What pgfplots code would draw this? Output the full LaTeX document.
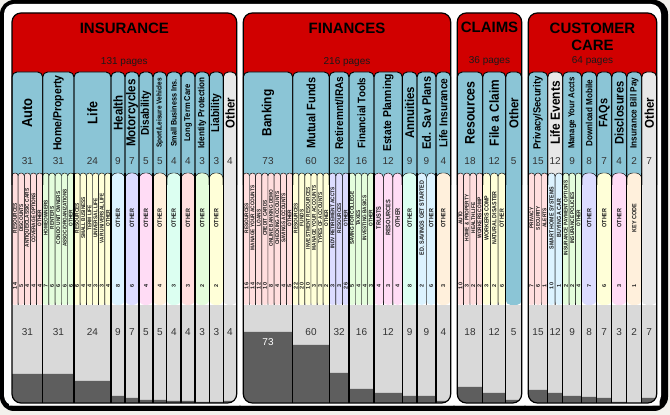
\documentclass[border=0pt]{standalone}
\usepackage{graphicx}
\usepackage{pgfplots}
\pgfplotsset{compat=1.18}
\usepackage{fontspec}
\setmainfont{Liberation Sans}
\definecolor{hdr}{HTML}{D10000}
\definecolor{tabc}{HTML}{8BC5D6}
\definecolor{tabg}{HTML}{E8E8E8}
\definecolor{cPk}{HTML}{FFDEDE}
\definecolor{cGr}{HTML}{E4FDDC}
\definecolor{cYe}{HTML}{FFFFD8}
\definecolor{cCy}{HTML}{DCF3FF}
\definecolor{cLv}{HTML}{DCDCFF}
\definecolor{cMg}{HTML}{FFDCF5}
\definecolor{cPe}{HTML}{FFF0DC}
\definecolor{cMn}{HTML}{DCFFF1}
\definecolor{botg}{HTML}{D9D9D9}
\definecolor{bard}{HTML}{5E5E5E}
\definecolor{pagebg}{HTML}{F3F1EC}
\definecolor{numc}{HTML}{333333}
\definecolor{subt}{HTML}{1A1A1A}
\tikzset{px/.style={shift={(0pt,415pt)},x=1pt,y=-1pt}}
\newcommand\subc[3]{%
  \pgfmathsetmacro\rr{min(0.47*(#2-#1),6)}%
  \fill[#3,rounded corners=\rr pt] (#1,305) -- (#1,173) -- (#2,173) -- (#2,305) -- cycle;
  \draw[line width=0.45pt,rounded corners=\rr pt] (#1,305) -- (#1,173) -- (#2,173) -- (#2,305);}
\newcommand\subsc[4]{%
  \foreach \i in {1,...,#3}{%
    \pgfmathsetmacro\xa{#1+(#2-#1)*(\i-1)/#3}%
    \pgfmathsetmacro\xb{#1+(#2-#1)*\i/#3}%
    \subc{\xa}{\xb}{#4}}}
\newcommand\tabf[4]{\fill[#3,rounded corners=5pt] (#1,72) rectangle (#2,#4);}
\newcommand\tabo[2]{\draw[line width=0.9pt,rounded corners=5pt] (#1,185) -- (#1,72) -- (#2,72) -- (#2,185);}
\newcommand\clab[3]{\node[inner sep=0pt] at (#1,113)
  {\rotatebox{90}{\scalebox{0.9}[1]{\bfseries\fontsize{\fpeval{#2/0.9}}{\fpeval{#2/0.9}}\selectfont #3}}};}
\newcommand\slab[3]{\node[inner sep=0pt,text=subt] at (#1,218)
  {\rotatebox{90}{\scalebox{0.88}[1]{\bfseries\fontsize{#2}{#2}\selectfont #3}}};}
\newcommand\mask[2]{\begin{scope}\clip (#1-3,390) rectangle (#2+3,407);
  \fill[white,even odd rule] (#1-3,380) rectangle (#2+3,405.6) [rounded corners=9pt] (#1,300) rectangle (#2,403);\end{scope}}
\newcommand\ttl[3]{\node[font=\bfseries\fontsize{15}{17}\selectfont,align=center] at (#1,#2) {#3};}
\newcommand\pgs[3]{\node[font=\fontsize{10}{10}\selectfont,text=subt] at (#1,#2) {#3};}
\begin{document}
\begin{tikzpicture}
% ---------------- background layout ----------------
\begin{scope}[px]
\path[use as bounding box] (0,0) rectangle (670,415);
\fill[pagebg] (0,0) rectangle (670,415);
\fill[black,rounded corners=14pt] (0,0) rectangle (668,411);
\fill[white,rounded corners=10pt] (4,4) rectangle (661,405.5);
% headers
\fill[hdr,rounded corners=9pt] (12,13) rectangle (236.7,110);
\fill[hdr,rounded corners=9pt] (243.3,13) rectangle (450.7,110);
\fill[hdr,rounded corners=9pt] (457.3,13) rectangle (521.7,110);
\fill[hdr,rounded corners=9pt] (528.3,13) rectangle (656.7,110);
% bottom gray
\fill[botg] (12,305) rectangle (236.7,404);
\fill[botg] (243.3,305) rectangle (450.7,404);
\fill[botg] (457.3,305) rectangle (521.7,404);
\fill[botg] (528.3,305) rectangle (656.7,404);
% tabs
\tabf{12}{42.7}{tabc}{190}\tabf{42.7}{74}{tabc}{190}\tabf{74}{111}{tabc}{190}
\tabf{111}{125}{tabc}{190}\tabf{125}{139}{tabc}{190}\tabf{139}{153}{tabc}{190}
\tabf{153}{166.7}{tabc}{190}\tabf{166.7}{181}{tabc}{190}\tabf{181}{195}{tabc}{190}
\tabf{195}{209.3}{tabc}{190}\tabf{209.3}{223.3}{tabc}{190}\tabf{223.3}{236.7}{tabg}{305}
\tabf{243.3}{292.7}{tabc}{190}\tabf{292.7}{329.3}{tabc}{190}\tabf{329.3}{349}{tabc}{190}
\tabf{349}{374}{tabc}{190}\tabf{374}{402.3}{tabc}{190}\tabf{402.3}{417}{tabc}{190}
\tabf{417}{436}{tabc}{190}\tabf{436}{450.7}{tabc}{190}
\tabf{457.3}{482.7}{tabc}{190}\tabf{482.7}{505.7}{tabc}{190}\tabf{505.7}{521.7}{tabc}{305}
\tabf{528.3}{547.7}{tabc}{190}\tabf{547.7}{562.7}{tabg}{190}\tabf{562.7}{581.7}{tabc}{190}
\tabf{581.7}{596.7}{tabc}{190}\tabf{596.7}{611.7}{tabc}{190}\tabf{611.7}{626.7}{tabc}{190}
\tabf{626.7}{641.7}{tabc}{190}\tabf{641.7}{656.7}{tabg}{305}
% sub-category columns
\subsc{12}{42.7}{5}{cPk}\subsc{42.7}{74}{5}{cGr}\subsc{74}{111}{6}{cYe}
\subsc{111}{125}{1}{cCy}\subsc{125}{139}{1}{cLv}\subsc{139}{153}{1}{cMg}
\subsc{153}{166.7}{1}{cPe}\subsc{166.7}{181}{1}{cMn}\subsc{181}{195}{1}{cPk}
\subsc{195}{209.3}{1}{cGr}\subsc{209.3}{223.3}{1}{cYe}
\subsc{243.3}{292.7}{8}{cPk}\subsc{292.7}{329.3}{6}{cYe}\subsc{329.3}{349}{3}{cLv}
\subsc{349}{374}{4}{cGr}\subsc{374}{402.3}{3}{cMg}\subsc{402.3}{417}{1}{cMn}
\subsc{417}{436}{2}{cCy}\subsc{436}{450.7}{1}{cPe}
\subsc{457.3}{482.7}{4}{cPk}\subsc{482.7}{505.7}{3}{cYe}
\subsc{528.3}{547.7}{3}{cPk}\subsc{547.7}{562.7}{2}{cCy}\subsc{562.7}{581.7}{3}{cGr}
\subsc{581.7}{596.7}{1}{cLv}\subsc{596.7}{611.7}{1}{cYe}\subsc{611.7}{626.7}{1}{cMg}
\subsc{626.7}{641.7}{1}{cPe}
\end{scope}
% ---------------- data axis ----------------
\begin{axis}[at={(0pt,0pt)},anchor=south west,scale only axis,width=670pt,height=415pt,
  xmin=0,xmax=670,ymin=-10,ymax=405,axis lines=none,clip=false]
\addplot[ybar interval,fill=bard,draw=none] table[x=x,y=v]{
x v
12 31
42.7 31
74 24
111 9
125 7
139 5
153 5
166.7 4
181 4
195 3
209.3 3
223.3 4
236.7 4
};
\addplot[ybar interval,fill=bard,draw=none] table[x=x,y=v]{
x v
243.3 73
292.7 60
329.3 32
349 16
374 12
402.3 9
417 9
436 4
450.7 4
};
\addplot[ybar interval,fill=bard,draw=none] table[x=x,y=v]{
x v
457.3 18
482.7 12
505.7 5
521.7 5
};
\addplot[ybar interval,fill=bard,draw=none] table[x=x,y=v]{
x v
528.3 15
547.7 12
562.7 9
581.7 8
596.7 7
611.7 3
626.7 2
641.7 7
656.7 7
};
% numbers in the bottom area
\addplot[draw=none,mark=none,nodes near coords,point meta=explicit symbolic,
  nodes near coords style={anchor=center,font=\fontsize{10}{10}\selectfont,text=numc}]
  table[x=x,y=y,meta=v]{
x y v
27.35 73 31
58.35 73 31
92.5 73 24
118 73 9
132 73 7
146 73 5
159.85 73 5
173.85 73 4
188 73 4
202.15 73 3
216.3 73 3
230 73 4
311 73 60
339.15 73 32
361.5 73 16
388.15 73 12
409.65 73 9
426.5 73 9
443.35 73 4
470 73 18
494.2 73 12
513.7 73 5
538 73 15
555.2 73 12
572.2 73 9
589.2 73 8
604.2 73 7
619.2 73 3
634.2 73 2
649.2 73 7
};
\addplot[draw=none,mark=none,nodes near coords,point meta=explicit symbolic,
  nodes near coords style={anchor=center,font=\fontsize{10}{10}\selectfont,text=white}]
  table[x=x,y=y,meta=v]{
x y v
268 63 73
};
% numbers on the tabs
\addplot[draw=none,mark=none,nodes near coords,point meta=explicit symbolic,
  nodes near coords style={anchor=center,font=\fontsize{10}{10}\selectfont,text=numc}]
  table[x=x,y=y,meta=v]{
x y v
27.35 244 31
58.35 244 31
92.5 244 24
118 244 9
132 244 7
146 244 5
159.85 244 5
173.85 244 4
188 244 4
202.15 244 3
216.3 244 3
230 244 4
268 244 73
311 244 60
339.15 244 32
361.5 244 16
388.15 244 12
409.65 244 9
426.5 244 9
443.35 244 4
470 244 18
494.2 244 12
513.7 244 5
538 244 15
555.2 244 12
572.2 244 9
589.2 244 8
604.2 244 7
619.2 244 4
634.2 244 2
649.2 244 7
};
% sub-category page counts
\addplot[draw=none,mark=none,nodes near coords={\rotatebox{90}{\pgfplotspointmeta}},point meta=explicit symbolic,
  nodes near coords style={anchor=center,font=\bfseries\fontsize{5.5}{5.5}\selectfont,text=subt}]
  table[x=x,y=y,meta=v]{
x y v
15.07 119 14
21.21 119 5
27.35 119 4
33.49 119 4
39.63 119 4
45.83 119 7
52.09 119 6
58.35 119 6
64.61 119 6
70.87 119 6
77.08 119 6
83.25 119 4
89.42 119 4
95.58 119 3
101.75 119 3
107.92 119 4
118 119 8
132 119 6
146 119 4
159.85 119 4
173.85 119 3
188 119 3
202.15 119 2
216.3 119 2
246.39 119 16
252.56 119 14
258.74 119 12
264.91 119 10
271.09 119 8
277.26 119 4
283.44 119 4
289.61 119 5
295.75 119 22
301.85 119 20
307.95 119 10
314.05 119 3
320.15 119 3
326.25 119 2
332.58 119 3
339.15 119 3
345.72 119 26
352.13 119 5
358.38 119 4
364.63 119 4
370.88 119 3
378.72 119 4
388.15 119 3
397.58 119 4
409.65 119 8
421.75 119 2
431.25 119 6
443.35 119 3
460.48 119 10
466.83 119 3
473.18 119 2
479.53 119 2
486.53 119 3
494.2 119 2
501.87 119 6
531.53 119 7
538 119 6
544.47 119 1
551.45 119 10
558.95 119 1
565.87 119 2
572.2 119 2
578.53 119 4
589.2 119 7
604.2 119 6
619.2 119 3
634.2 119 1
};
\end{axis}
% ---------------- overlay: borders and text ----------------
\begin{scope}[px]
\mask{12}{236.7}\mask{243.3}{450.7}\mask{457.3}{521.7}\mask{528.3}{656.7}
% tab outlines
\foreach \a/\b in {12/42.7,42.7/74,74/111,111/125,125/139,139/153,153/166.7,166.7/181,181/195,195/209.3,209.3/223.3,223.3/236.7,
  243.3/292.7,292.7/329.3,329.3/349,349/374,374/402.3,402.3/417,417/436,436/450.7,
  457.3/482.7,482.7/505.7,505.7/521.7,
  528.3/547.7,547.7/562.7,562.7/581.7,581.7/596.7,596.7/611.7,611.7/626.7,626.7/641.7,641.7/656.7}{\tabo{\a}{\b}}
% main separators
\foreach \x in {42.7,74,111,125,139,153,166.7,181,195,209.3,223.3,292.7,329.3,349,374,402.3,417,436,482.7,505.7,547.7,562.7,581.7,596.7,611.7,626.7,641.7}
  {\draw[line width=1.5pt] (\x,173) -- (\x,403);}
% panel outlines
\draw[line width=1.2pt,rounded corners=9pt] (12,13) rectangle (236.7,403);
\draw[line width=1.2pt,rounded corners=9pt] (243.3,13) rectangle (450.7,403);
\draw[line width=1.2pt,rounded corners=9pt] (457.3,13) rectangle (521.7,403);
\draw[line width=1.2pt,rounded corners=9pt] (528.3,13) rectangle (656.7,403);
% titles
\ttl{124.35}{28}{INSURANCE}\pgs{124.35}{62}{131 pages}
\ttl{347}{28}{FINANCES}\pgs{347}{62}{216 pages}
\ttl{489.5}{27}{CLAIMS}\pgs{489.5}{61}{36 pages}
\ttl{592.5}{36.5}{CUSTOMER\\CARE}\pgs{592.5}{61}{64 pages}
% column names
\clab{27.35}{13}{Auto}
\clab{58.35}{10.5}{Home/Property}
\clab{92.5}{12.5}{Life}
\clab{118}{11.5}{Health}
\clab{132}{11.6}{Motorcycles}
\clab{146}{10.1}{Disability}
\clab{159.85}{6.5}{Sport/Leisure Vehicles}
\clab{173.85}{7.2}{Small Business Ins.}
\clab{188}{7.6}{Long Term Care}
\clab{202.15}{8.1}{Identity Protection}
\clab{216.3}{10.2}{Liability}
\clab{230}{11.5}{Other}
\clab{268}{11.9}{Banking}
\clab{311}{11}{Mutual Funds}
\clab{339.15}{10.1}{Retiremnt/IRAs}
\clab{361.5}{9.8}{Financial Tools}
\clab{388.15}{10.3}{Estate Planning}
\clab{409.65}{11.4}{Annuities}
\clab{426.5}{11}{Ed. Sav Plans}
\clab{443.35}{10.2}{Life Insurance}
\clab{470}{12.4}{Resources}
\clab{494.2}{11.9}{File a Claim}
\clab{513.7}{11.5}{Other}
\clab{538}{9.4}{Privacy/Security}
\clab{555.2}{11.9}{Life Events}
\clab{572.2}{7.8}{Manage Your Accts}
\clab{589.2}{8.1}{Download Mobile}
\clab{604.2}{11}{FAQs}
\clab{619.2}{11.2}{Disclosures}
\clab{634.2}{8.2}{Insurance Bill Pay}
\clab{649.2}{11.5}{Other}
% sub-category names
\slab{15.07}{5.4}{RESOURCES}\slab{21.21}{5.4}{DISCOUNTS}\slab{27.35}{5.4}{ANTIQUE/CLASSIC CARS}\slab{33.49}{5.4}{COVERAGE OPTIONS}\slab{39.63}{5.4}{OTHER}
\slab{45.83}{5.4}{HOMEOWNERS}\slab{52.09}{5.4}{RENTERS}\slab{58.35}{5.4}{CONDO UNIT OWNERS}\slab{64.61}{5.4}{ASSOC/ORGANIZATIONS}\slab{70.87}{5.4}{OTHER}
\slab{77.08}{5.4}{RESOURCES}\slab{83.25}{5.4}{SMALL BUSINESS}\slab{89.42}{5.4}{TERM LIFE}\slab{95.58}{5.4}{UNIVERSAL LIFE}\slab{101.75}{5.4}{VAR UNIVERSAL LIFE}\slab{107.92}{5.4}{OTHER}
\foreach \x in {118,132,146,159.85,173.85,188,202.15,216.3}{\slab{\x}{6.2}{OTHER}}
\slab{246.39}{5.4}{RESOURCES}\slab{252.56}{5.4}{MANAGE YOUR ACCOUNTS}\slab{258.74}{5.4}{LOANS}\slab{264.91}{5.4}{CREDIT CARDS}
\slab{271.09}{5.4}{ONLINE BANKING DEMO}\slab{277.26}{5.4}{CHECKING ACCOUNTS}\slab{283.44}{5.4}{SAVINGS ACCOUNTS}\slab{289.61}{5.4}{OTHER}
\slab{295.75}{5.4}{RESOURCES}\slab{301.85}{5.4}{FUNDS}\slab{307.95}{5.4}{INVESTMENT RESOURCES}\slab{314.05}{5.4}{MANAGE YOUR ACCOUNTS}\slab{320.15}{5.4}{TYPES OF ACCOUNTS}\slab{326.25}{5.4}{OTHER}
\slab{332.58}{5.4}{INDV RETIREMENT ACCTS}\slab{339.15}{5.4}{RESOURCES}\slab{345.72}{5.4}{OTHER}
\slab{352.13}{5.4}{SAVING FOR COLLEGE}\slab{358.38}{5.4}{TAXES}\slab{364.63}{5.4}{INVESTING BASICS}\slab{370.88}{5.4}{OTHER}
\slab{378.72}{6.4}{TRUSTS}\slab{388.15}{6.4}{RESOURCES}\slab{397.58}{6.4}{OTHER}
\slab{409.65}{6.2}{OTHER}
\slab{421.75}{6.2}{ED. SAVINGS GET STARTED}\slab{431.25}{6.2}{OTHER}
\slab{443.35}{6.2}{OTHER}
\slab{460.48}{5.4}{AUTO}\slab{466.83}{5.4}{HOME \& PROPERTY}\slab{473.18}{5.4}{HEALTH LIFE}\slab{479.53}{5.4}{WORKERS COMP}
\slab{486.53}{6}{WORKERS COMP}\slab{494.2}{6}{NATURAL DISASTER}\slab{501.87}{6}{OTHER}
\slab{531.53}{5.4}{PRIVACY}\slab{538}{5.4}{SECURITY}\slab{544.47}{5.4}{ALERTS}
\slab{551.45}{6}{SMART HOME SYSTEMS}\slab{558.95}{6}{BUYING A CAR}
\slab{565.87}{5.4}{INSURANCE PAYMENT OPTIONS}\slab{572.2}{5.4}{INSURANCE POLICIES}\slab{578.53}{5.4}{OTHER}
\slab{589.2}{6.2}{OTHER}\slab{604.2}{6.2}{OTHER}\slab{619.2}{6.2}{OTHER}\slab{634.2}{6.2}{KEY CODE}
\end{scope}
\end{tikzpicture}
\end{document}
